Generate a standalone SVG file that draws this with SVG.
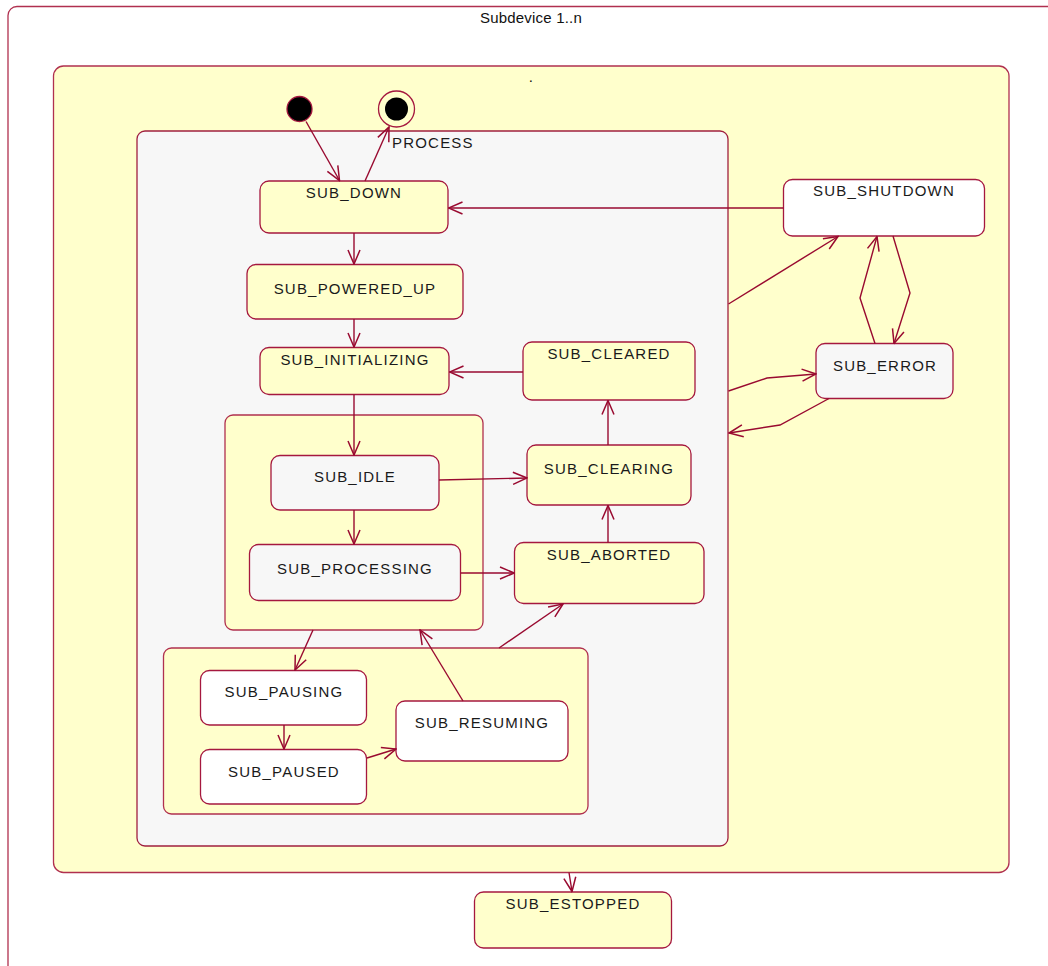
<svg xmlns="http://www.w3.org/2000/svg" width="1048" height="966" viewBox="0 0 1048 966">
  <style>
    .frame { fill: #ffffff; stroke: #b0304f; stroke-width: 1.3; }
    .region { fill: #ffffcc; stroke: #b0304f; stroke-width: 1.3; }
    .proc { fill: #f7f7f7; stroke: #a0203f; stroke-width: 1.3; }
    .st-y { fill: #ffffcc; stroke: #a5183f; stroke-width: 1.3; }
    .st-g { fill: #f7f7f7; stroke: #a5183f; stroke-width: 1.3; }
    .st-w { fill: #ffffff; stroke: #a5183f; stroke-width: 1.3; }
    .lbl { font-family: "Liberation Sans", Arial, sans-serif; font-size: 15px; letter-spacing: 1.2px; fill: #1a1a1a; text-anchor: middle; }
    .ttl { font-family: "Liberation Sans", Arial, sans-serif; font-size: 15px; letter-spacing: 0.2px; fill: #111111; text-anchor: middle; }
    .edge { fill: none; stroke: #990a30; stroke-width: 1.4; marker-end: url(#open); }
  </style>
  <defs>
    <marker id="open" viewBox="0 0 16 14" markerUnits="userSpaceOnUse" markerWidth="16" markerHeight="14" refX="15" refY="7" orient="auto">
      <path d="M1,1 L15,7 L1,13" fill="none" stroke="#990a30" stroke-width="1.5"/>
    </marker>
  </defs>

  <!-- outer component frame -->
  <g id="subdevice">
    <rect class="frame" x="8" y="6.5" width="1080" height="1000" rx="9"/>
    <text class="ttl" x="531" y="23">Subdevice 1..n</text>
  </g>

  <!-- main region -->
  <g id="main-region">
    <rect class="region" x="53.5" y="66" width="955.5" height="806.5" rx="10"/>
    <text class="ttl" x="531" y="82">.</text>
  </g>

  <!-- PROCESS composite state -->
  <g id="process">
    <rect class="proc" x="137" y="131" width="591" height="715" rx="8"/>
    <text class="lbl" x="392" y="148" style="text-anchor:start">PROCESS</text>
  </g>

  <!-- pseudo states -->
  <g id="initial">
    <circle cx="299.5" cy="109" r="12.5" fill="#000000" stroke="#a5183f" stroke-width="1.3"/>
  </g>
  <g id="final">
    <circle cx="396.5" cy="109" r="18" fill="#ffffcc" stroke="#a5183f" stroke-width="1.3"/>
    <circle cx="396.5" cy="109" r="11.5" fill="#000000"/>
  </g>

  <!-- nested regions -->
  <g id="active-region">
    <rect class="region" x="225" y="415" width="258" height="215" rx="8"/>
  </g>
  <g id="pause-region">
    <rect class="region" x="163.5" y="648" width="424.5" height="166" rx="8"/>
  </g>

  <!-- states -->
  <g id="sub-down">
    <rect class="st-y" x="260" y="181" width="188" height="52" rx="9"/>
    <text class="lbl" x="354" y="198">SUB_DOWN</text>
  </g>
  <g id="sub-powered-up">
    <rect class="st-y" x="247" y="264.5" width="216" height="54.5" rx="9"/>
    <text class="lbl" x="355" y="294">SUB_POWERED_UP</text>
  </g>
  <g id="sub-initializing">
    <rect class="st-y" x="260" y="347.5" width="189" height="47" rx="9"/>
    <text class="lbl" x="355" y="365">SUB_INITIALIZING</text>
  </g>
  <g id="sub-idle">
    <rect class="st-g" x="271" y="455.5" width="168" height="54.5" rx="9"/>
    <text class="lbl" x="355" y="482">SUB_IDLE</text>
  </g>
  <g id="sub-processing">
    <rect class="st-g" x="249.5" y="544.5" width="211" height="56" rx="9"/>
    <text class="lbl" x="355" y="574">SUB_PROCESSING</text>
  </g>
  <g id="sub-cleared">
    <rect class="st-y" x="523" y="342" width="172" height="58" rx="9"/>
    <text class="lbl" x="609" y="359">SUB_CLEARED</text>
  </g>
  <g id="sub-clearing">
    <rect class="st-y" x="527" y="445" width="164" height="60" rx="9"/>
    <text class="lbl" x="609" y="474">SUB_CLEARING</text>
  </g>
  <g id="sub-aborted">
    <rect class="st-y" x="514.5" y="542.5" width="189.5" height="61" rx="9"/>
    <text class="lbl" x="609" y="560">SUB_ABORTED</text>
  </g>
  <g id="sub-pausing">
    <rect class="st-w" x="200.5" y="670.5" width="166" height="54.5" rx="9"/>
    <text class="lbl" x="284" y="697">SUB_PAUSING</text>
  </g>
  <g id="sub-paused">
    <rect class="st-w" x="200.5" y="749.5" width="166" height="54.5" rx="9"/>
    <text class="lbl" x="284" y="777">SUB_PAUSED</text>
  </g>
  <g id="sub-resuming">
    <rect class="st-w" x="396" y="701" width="172" height="60" rx="9"/>
    <text class="lbl" x="482" y="728">SUB_RESUMING</text>
  </g>
  <g id="sub-shutdown">
    <rect class="st-w" x="783.5" y="179.5" width="201" height="56.5" rx="9"/>
    <text class="lbl" x="884" y="196">SUB_SHUTDOWN</text>
  </g>
  <g id="sub-error">
    <rect class="st-g" x="816" y="343.5" width="137" height="55" rx="9"/>
    <text class="lbl" x="885" y="371">SUB_ERROR</text>
  </g>
  <g id="sub-estopped">
    <rect class="st-y" x="474.5" y="892" width="197" height="56" rx="9"/>
    <text class="lbl" x="573" y="909">SUB_ESTOPPED</text>
  </g>

  <!-- transitions -->
  <g id="connectors">
    <path class="edge" d="M306,121.5 L339.5,180.5"/>
    <path class="edge" d="M365,181 L389,127"/>
    <path class="edge" d="M783.5,208 L448.5,208"/>
    <path class="edge" d="M354,233 L354,264"/>
    <path class="edge" d="M354,319 L354,347"/>
    <path class="edge" d="M523,372 L449.5,372"/>
    <path class="edge" d="M354,394.5 L354,455"/>
    <path class="edge" d="M439,480 L527,478"/>
    <path class="edge" d="M354,510 L354,544"/>
    <path class="edge" d="M460.5,573 L514,573"/>
    <path class="edge" d="M608,445 L608,400.5"/>
    <path class="edge" d="M608,542.5 L608,505.5"/>
    <path class="edge" d="M313,630 L295,670"/>
    <path class="edge" d="M284,725 L284,749"/>
    <path class="edge" d="M367,758 L396,749"/>
    <path class="edge" d="M463,701 L420,630"/>
    <path class="edge" d="M499,648 L563,604"/>
    <path class="edge" d="M728.5,304 L838,236.5"/>
    <path class="edge" d="M728.5,391 L767,378 L816,374"/>
    <path class="edge" d="M829,398.5 L780,425 L729,433"/>
    <path class="edge" d="M875,343.5 L860,298 L877,236.5"/>
    <path class="edge" d="M893,236 L910,293 L894,343.5"/>
    <path class="edge" d="M569,872.5 L572,891.5"/>
  </g>
</svg>
